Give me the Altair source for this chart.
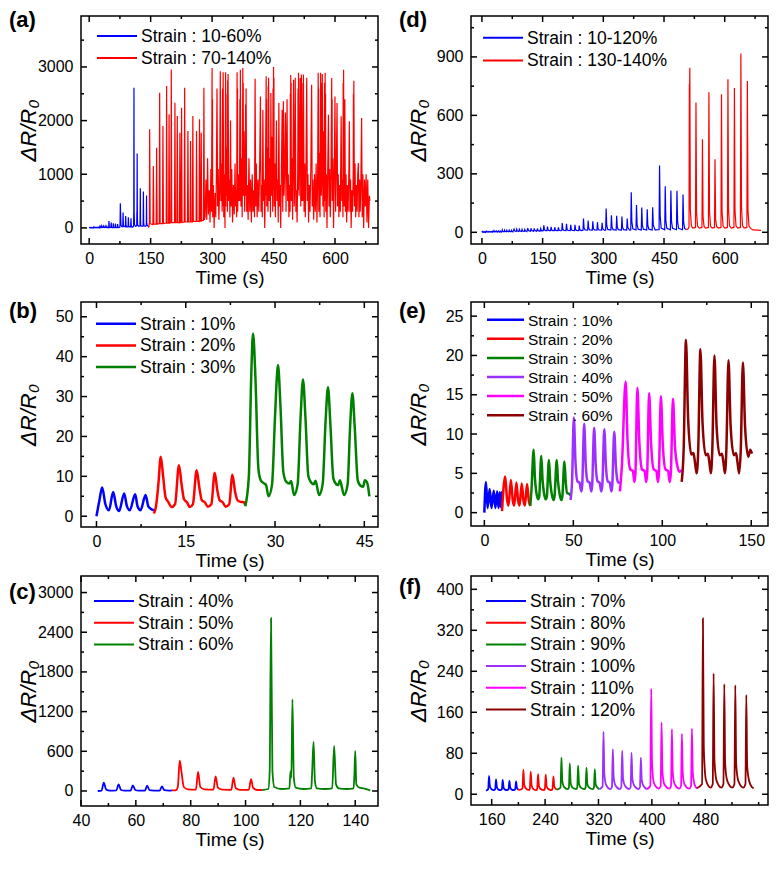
import altair as alt
import pandas as pd

FONT = "Liberation Sans, Arial, Helvetica, sans-serif"
BLUE, RED, GREEN = "#0000ff", "#ff0000", "#008000"
PURPLE, PINK, BROWN = "#9b30ff", "#ff00ff", "#8b0000"

# ---------------- panel (b) : strain 10 / 20 / 30 % ----------------
b_blue = [(0, 0), (0.5, 4.0), (0.95, 7.2), (1.5, 3.0), (2.1, 1.5), (2.8, 6.1), (3.3, 2.6), (3.8, 1.3),
          (4.66, 5.7), (5.1, 2.6), (5.6, 1.5), (6.5, 5.5), (6.9, 2.5), (7.4, 1.5), (8.25, 5.3), (8.7, 2.5),
          (9.1, 1.9), (9.65, 1.5)]
b_red = [(9.65, 0.7), (10.0, 2.5), (10.4, 8), (10.8, 14.9), (11.2, 10), (11.6, 4.8), (12.1, 3.5), (12.6, 2.3),
         (13.2, 3), (13.86, 12.8), (14.3, 8), (14.7, 4.3), (15.2, 3.5), (15.7, 2.3), (16.2, 3), (16.83, 11.5),
         (17.3, 7), (17.7, 4), (18.2, 3.5), (18.7, 2.4), (19.3, 3), (19.87, 10.9), (20.3, 6.5), (20.7, 4),
         (21.2, 3.5), (21.7, 2.4), (22.3, 3), (22.84, 10.4), (23.3, 6), (23.7, 4), (24.2, 3.6), (24.8, 3.5),
         (25.0, 2.8)]
b_green = [(25.0, 2.5), (25.6, 10), (26.0, 35), (26.3, 45.8), (26.7, 35), (27.2, 12), (27.6, 9.0), (28.1, 8.3),
           (28.5, 7.8), (28.9, 5.0), (29.5, 8), (30.0, 25), (30.5, 37.9), (30.9, 28), (31.4, 11), (31.9, 8.6),
           (32.4, 8.2), (32.7, 8.8), (33.2, 5.3), (33.8, 8), (34.3, 25), (34.7, 34.3), (35.1, 25), (35.6, 10),
           (36.1, 8.4), (36.5, 8.0), (36.8, 8.9), (37.4, 5.3), (38.0, 8), (38.5, 24), (38.9, 32.3), (39.3, 23),
           (39.8, 9.5), (40.3, 8), (40.6, 7.8), (40.9, 9.0), (41.6, 5.3), (42.2, 8), (42.6, 22), (43.0, 30.8),
           (43.4, 22), (43.9, 9), (44.4, 7.6), (44.8, 7.4), (45.1, 9.0), (45.5, 8.3), (45.85, 5.0)]

# ---------------- panel (c) : strain 40 / 50 / 60 % ----------------
c_blue = [(46.1, 0), (47.5, 5), (48.3, 126), (49.2, 20), (50.5, 5), (52.9, 8), (53.7, 100), (54.6, 15), (56, 5),
          (58.1, 5), (58.9, 86), (59.8, 15), (61, 5), (63.3, 5), (64.1, 80), (65, 12), (66.5, 5), (68.7, 5),
          (69.5, 70), (70.4, 12), (72, 5), (73.2, 8)]
c_red = [(73.2, 8), (74.5, 10), (75.3, 60), (76.0, 460), (76.6, 300), (77.5, 60), (79, 25), (81.9, 20),
         (82.7, 287), (83.5, 60), (85, 25), (88.3, 20), (89.1, 222), (89.9, 50), (91.5, 20), (94.8, 18),
         (95.6, 200), (96.4, 45), (98, 18), (101.2, 18), (102.0, 180), (102.8, 45), (104.5, 15), (106.1, 15)]
c_green = [(106.1, 15), (108.3, 30), (108.8, 300), (109.3, 2612), (109.8, 300), (110.5, 60), (113, 30),
           (116.0, 40), (116.4, 300), (116.7, 200), (117.1, 1387), (117.6, 200), (118.3, 50), (121, 30),
           (124.0, 40), (124.3, 300), (124.8, 741), (125.3, 150), (126, 40), (129, 30), (131.6, 40),
           (132.3, 680), (133.0, 100), (134, 40), (137, 30), (139.4, 40), (139.7, 250), (140.0, 605),
           (140.4, 100), (141.5, 50), (143, 40), (145.5, 10)]

# ---------------- panel (e) : strain 10 ... 60 % ----------------
e_blue = [(0, 0), (0.9, 3.9), (1.8, 0.6), (3.0, 3.0), (4.0, 0.6), (5.3, 2.8), (6.2, 0.6), (7.2, 2.7),
          (8.0, 0.6), (8.7, 2.6), (9.3, 0.7), (9.8, 2.6), (9.9, 0.7)]
e_red = [(9.9, 0.2), (11.7, 4.6), (12.8, 1.6), (13.6, 0.9), (14.9, 4.15), (16.0, 1.5), (16.8, 0.9),
         (18.0, 3.85), (19.0, 1.5), (19.8, 0.9), (21.0, 3.7), (22.0, 1.5), (22.8, 0.9), (24.0, 3.65),
         (25.0, 1.5), (25.8, 0.85)]
e_green = [(25.8, 0.85), (26.5, 3), (27.7, 8.0), (28.4, 4.5), (29.2, 2.6), (30.2, 1.7), (30.8, 2.0),
           (32.0, 7.2), (32.7, 4.2), (33.5, 2.5), (34.5, 1.7), (35.1, 2.0), (36.3, 6.7), (37.0, 4.0),
           (37.8, 2.5), (38.8, 1.6), (39.4, 2.0), (40.7, 6.7), (41.4, 4.0), (42.2, 2.5), (43.2, 1.6),
           (43.8, 2.0), (45.0, 6.5), (45.7, 4.0), (46.5, 2.5), (47.6, 2.4), (48.4, 2.2)]
e_purple = [(48.4, 1.6), (49.3, 4), (50.3, 12.1), (51.2, 6.5), (52.3, 4.0), (53.5, 3.8), (54.5, 2.7),
            (55.0, 3.5), (56.1, 11.3), (57.0, 6), (58.0, 4.0), (59.2, 3.8), (60.1, 2.7), (60.6, 3.5),
            (61.7, 10.8), (62.6, 6), (63.6, 4.0), (64.8, 3.8), (65.7, 2.7), (66.3, 3.5), (67.4, 10.6),
            (68.3, 6), (69.3, 4.0), (70.5, 3.8), (71.4, 2.7), (71.9, 3.5), (73.0, 10.3), (73.9, 6),
            (74.9, 4.0), (75.6, 3.8), (76.2, 3.8)]
e_pink = [(76.2, 2.7), (77.3, 6), (79.4, 16.7), (80.5, 9), (82.0, 5.5), (83.5, 5.3), (84.3, 3.9), (84.9, 5),
          (86.0, 15.9), (87.1, 9), (88.6, 5.5), (90.1, 5.3), (90.9, 3.9), (91.5, 5), (92.6, 15.2),
          (93.7, 8.8), (95.2, 5.5), (96.7, 5.3), (97.5, 3.9), (98.1, 5), (99.2, 14.8), (100.3, 8.6),
          (101.8, 5.5), (103.3, 5.3), (104.1, 3.9), (104.8, 5), (106.0, 14.5), (107.1, 8.5), (108.6, 5.8),
          (109.6, 5.2), (110.9, 5.4)]
e_brown = [(110.9, 3.9), (112.0, 8), (113.3, 22.0), (114.5, 12), (116.3, 7.4), (117.5, 7.6), (118.3, 6.5),
           (119.3, 5.0), (120.2, 8), (121.4, 20.8), (122.6, 11.5), (124.4, 7.3), (125.6, 7.5), (126.4, 6.5),
           (127.3, 5.0), (128.1, 8), (129.3, 20.0), (130.5, 11), (132.3, 7.3), (133.5, 7.5), (134.3, 6.5),
           (135.2, 5.0), (136.0, 8), (137.2, 19.4), (138.4, 11), (140.2, 7.3), (141.4, 7.6), (142.2, 6.5),
           (143.2, 5.0), (144.1, 8), (145.3, 19.1), (146.5, 11), (148.3, 7.1), (149.4, 8.0), (150.4, 7.5)]

# ---------------- panel (f) : strain 70 ... 120 % ----------------
f_blue = [(151.5, 7), (154.8, 10), (156.0, 36), (157.3, 16), (159.5, 10), (163.0, 8), (165.3, 10), (166.5, 29),
          (167.8, 14), (170.0, 9), (173.0, 8), (175.3, 10), (176.5, 28), (177.8, 13), (180.0, 9), (183.0, 8),
          (185.3, 10), (186.5, 26), (187.8, 13), (190.0, 9), (193.0, 8), (195.3, 10), (196.5, 25), (197.8, 13),
          (200.0, 9)]
f_red = [(200.0, 8), (206.2, 11), (207.5, 48), (208.8, 18), (211.5, 11), (216.0, 8), (217.2, 11), (218.5, 44),
         (219.8, 17), (222.5, 10), (227.0, 8), (228.2, 11), (229.5, 39), (230.8, 16), (233.5, 10), (238.5, 8),
         (239.7, 11), (241.0, 38), (242.3, 15), (245.0, 10), (250.0, 8), (251.2, 11), (252.5, 35), (253.8, 15),
         (256.5, 10), (257.5, 9)]
f_green = [(257.5, 9), (263.2, 13), (264.5, 71.5), (265.8, 25), (268.5, 14), (274.0, 10), (275.7, 13),
           (277.0, 60), (278.3, 22), (281.0, 13), (286.5, 10), (288.2, 13), (289.5, 56), (290.8, 21),
           (293.5, 13), (299.0, 10), (300.7, 13), (302.0, 52), (303.3, 20), (306.0, 13), (311.5, 10),
           (313.2, 13), (314.5, 49), (315.8, 19), (318.5, 13), (321.5, 10)]
f_purple = [(321.5, 10), (326.2, 15), (327.5, 122), (328.8, 40), (331.5, 18), (338.0, 10), (340.2, 14),
            (341.5, 88), (342.8, 32), (345.5, 17), (352.0, 10), (354.2, 14), (355.5, 85), (356.8, 31),
            (359.5, 17), (366.0, 10), (368.2, 14), (369.5, 81), (370.8, 30), (373.5, 17), (380.0, 10),
            (382.2, 14), (383.5, 71.5), (384.8, 28), (387.5, 16), (392.5, 10)]
f_pink = [(392.5, 10), (397.7, 16), (399.0, 206), (400.3, 60), (403.0, 22), (410.5, 11), (413.2, 16),
          (414.5, 140), (415.8, 45), (418.5, 20), (426.0, 11), (428.7, 16), (430.0, 127), (431.3, 42),
          (434.0, 20), (441.0, 11), (443.7, 16), (445.0, 118), (446.3, 40), (449.0, 19), (456.0, 11),
          (458.7, 16), (460.0, 128), (461.3, 42), (464.0, 19), (467.5, 11)]
f_brown = [(467.5, 12), (475.2, 20), (476.5, 343), (477.8, 90), (481.0, 28), (488.0, 13), (491.2, 20),
           (492.5, 236), (493.8, 65), (497.0, 26), (504.0, 13), (507.2, 20), (508.5, 215), (509.8, 60),
           (513.0, 26), (520.5, 13), (523.7, 20), (525.0, 213), (526.3, 60), (529.5, 26), (537.0, 13),
           (540.2, 20), (541.5, 194), (542.8, 55), (546.0, 25), (550.0, 14), (552.5, 12)]

# ---------------- panel (d) : strain 10-120 % and 130-140 % ----------------
d_blue_70_120 = [(150.5, 8), (151.8, 9), (153, 36), (154.5, 13), (157, 9), (160.8, 9), (162, 29), (163.5, 12),
                 (166, 9), (169.8, 9), (171, 28), (172.5, 12), (175, 9), (178.8, 9), (180, 26), (181.5, 11),
                 (184, 9), (187.8, 9), (189, 25), (190.5, 11), (194, 8),
                 (197.3, 9), (198.5, 48), (200, 16), (202.5, 10), (207.8, 9), (209, 44), (210.5, 15),
                 (213, 10), (218.3, 9), (219.5, 39), (221, 14), (223.5, 10), (228.8, 9), (230, 38), (231.5, 14),
                 (234, 10), (239.3, 9), (240.5, 35), (242, 13), (246, 9),
                 (249.8, 11), (251, 71), (252.5, 22), (255, 12), (261.3, 11), (262.5, 60), (264, 20),
                 (266.5, 12), (272.8, 11), (274, 56), (275.5, 19), (278, 12), (284.3, 11), (285.5, 52),
                 (287, 18), (289.5, 12), (295.8, 11), (297, 49), (298.5, 18), (303, 10),
                 (305.8, 12), (307, 122), (308.5, 35), (311, 15), (318.8, 12), (320, 88), (321.5, 28), (324, 14),
                 (331.8, 12), (333, 85), (334.5, 27), (337, 14), (344.8, 12), (346, 81), (347.5, 26), (350, 14),
                 (357.8, 12), (359, 71), (360.5, 24), (365, 11),
                 (367.8, 12), (369, 206), (370.5, 55), (373, 18), (380.8, 12), (382, 140), (383.5, 40),
                 (386, 16), (393.8, 12), (395, 127), (396.5, 37), (399, 16), (407.3, 12), (408.5, 118),
                 (410, 35), (412.5, 16), (420.8, 12), (422, 128), (423.5, 37), (428, 12),
                 (437.8, 13), (439, 343), (440.5, 85), (443, 22), (451.8, 13), (453, 236), (454.5, 62),
                 (457, 20), (465.8, 13), (467, 215), (468.5, 58), (471, 20), (480.8, 13), (482, 213),
                 (483.5, 58), (486, 20), (495.8, 13), (497, 194), (498.5, 52), (501, 20), (505, 14)]
d_red = [(505, 14), (510, 18), (511.8, 30), (512.6, 760), (513.2, 720), (513.8, 844), (515, 120), (517.5, 35),
         (521, 22), (527.8, 25), (529, 666), (530.5, 100), (533, 32), (537, 22), (543.8, 25), (545, 477),
         (546.5, 80), (549, 30), (553, 22), (559.8, 25), (561, 719), (562.5, 105), (565, 32), (569, 22),
         (574.8, 25), (576, 375), (577.5, 65), (580, 30), (584, 22), (590.8, 25), (592, 708), (593.5, 105),
         (596, 32), (600, 22), (606.8, 25), (608, 785), (609.5, 115), (612, 33), (616, 22), (622.8, 25),
         (624, 740), (625.5, 110), (628, 32), (632, 22), (638.8, 25), (640, 918), (641.5, 130), (644, 35),
         (648, 22), (654.8, 25), (656, 776), (657.5, 115), (660, 32), (664, 20), (670, 12), (690, 10)]

# ---------------- panel (a) : strain 70-140 % (red) ----------------
a_red_low = [(145.5, 10), (147, 100), (147.6, 1838), (148.8, 80), (155.5, 60), (156.6, 1155), (157.8, 70),
             (163.5, 70), (164.6, 1496), (165.8, 70), (171, 80), (172, 2520), (173.2, 80), (179, 80),
             (180, 1900), (181.2, 80), (188, 90), (189, 2644), (190.2, 90), (194, 90), (195, 2117), (196.2, 90),
             (199.4, 100), (200.4, 2955), (201.6, 100), (208.3, 100), (209.3, 2334), (210.5, 100), (214, 100),
             (215, 2086), (216.2, 100), (220.4, 100), (221.4, 1775), (222.6, 100), (224.5, 110), (225.5, 2241),
             (226.7, 100), (232, 110), (233, 2613), (234.2, 110), (240, 110), (241, 1806), (242.2, 110),
             (246.4, 110), (247.4, 1620), (248.6, 110), (252, 110), (253, 2086), (254.2, 120), (261, 120),
             (262, 1806), (263.2, 120), (268.3, 120), (269.3, 2024), (270.5, 120), (272.4, 130), (273.4, 1775),
             (274.6, 130), (279, 140), (280, 2613), (281.2, 150)]
a_red_high = [(283, 200), (285, 900), (287, 150), (289, 1300), (291, 250), (293, 700), (295, 100), (297, 1100),
              (298.5, 300), (300, 2980), (301.5, 200), (303, 800), (305, 0), (307, 650), (309, 200), (310.5, 1000),
              (312, 2600), (313.5, 400), (315, 1100), (316.5, 150), (318.5, 700), (320, 2920), (321.5, 500),
              (323, 1200), (324.5, 300), (327, 2900), (328.5, 200), (330, 1000), (331.5, 0), (333, 2900),
              (334.5, 600), (336, 1500), (337.5, 300), (339, 2870), (340.5, 500), (342, 900), (343.5, 200),
              (345, 2000), (346.5, 400), (348, 1100), (350, 100), (352, 800), (354, 250), (356, 1200),
              (357.5, 400), (359, 700), (360, 200), (361, 2900), (362.5, 300), (364, 1000), (365.5, 500),
              (367, 900), (369, 2950), (370.5, 400), (372, 1300), (373.5, 200), (375, 2980), (376.5, 600),
              (378, 1800), (379.5, 300), (381, 1000), (383, 2600), (384.5, 300), (386, 800), (388, 150),
              (390, 1300), (392, 300), (394, 900), (396, 100), (398, 1000), (400, 300), (402, 700), (403.5, 200),
              (405, 2780), (406.5, 400), (408, 1200), (410, 200), (412, 900), (414, 300), (416, 1100),
              (418, 2450), (419.5, 300), (421, 800), (422.5, 200), (424, 2200), (425.5, 500), (427, 900),
              (428.5, 0), (430, 700), (432, 2825), (433.5, 400), (435, 1500), (436.5, 300), (438, 2800),
              (439.5, 500), (441, 1300), (442.5, 200), (443.5, 2515), (445, 600), (446.5, 1700), (448, 300),
              (450, 3000), (451.5, 400), (453, 1200), (454.5, 200), (457, 2000), (458.5, 500), (460, 900),
              (461.5, 100), (463, 2330), (464.5, 400), (466, 800), (467.5, 0), (469, 900), (471, 2200),
              (472.5, 300), (474, 2360), (475.5, 600), (477, 1000), (479, 2150), (480.5, 300), (483, 2400),
              (484.5, 500), (486, 1000), (487.5, 200), (489, 800), (490.5, 300), (492, 2850), (493.5, 500),
              (495, 1300), (496.5, 150), (499, 2760), (500.5, 400), (502, 900), (503, 2800), (504.5, 300),
              (506, 700), (507.5, 100), (509, 1000), (511, 2890), (512.5, 600), (514, 1500), (515, 2795),
              (516.5, 400), (518, 2860), (519.5, 500), (521, 1000), (523, 2860), (524.5, 300), (526, 1200),
              (527.5, 200), (529, 900), (531, 2800), (532.5, 500), (534, 1000), (535.5, 100), (537, 800),
              (539, 300), (541, 1100), (543, 2670), (544.5, 400), (546, 900), (548, 150), (550, 1000),
              (552, 300), (554, 1200), (556, 100), (557.5, 800), (559, 2890), (560.5, 300), (562, 1400),
              (563.5, 200), (565, 2890), (566.5, 600), (568, 1000), (569, 2870), (570.5, 400), (572, 1800),
              (573.5, 200), (576, 2890), (577.5, 300), (579, 1000), (580.5, 0), (582, 900), (584, 2110),
              (585.5, 400), (587, 1100), (588.5, 200), (590, 700), (592, 2795), (593.5, 500), (595, 1300),
              (596.5, 0), (598, 800), (600, 2450), (601.5, 300), (603, 900), (605, 2330), (606.5, 400),
              (608, 1000), (609.5, 200), (611, 800), (613, 300), (615, 2080), (616.5, 500), (618, 900),
              (619.5, 200), (621, 2950), (622.5, 400), (624, 2400), (625.5, 300), (627, 1000), (628.5, 100),
              (630, 800), (632, 300), (634, 1100), (635, 1990), (636.5, 300), (638, 900), (639.5, 0), (641, 700),
              (643, 300), (644.5, 1000), (646, 2745), (647.5, 400), (649, 1200), (650.5, 200), (652, 800),
              (654, 300), (655.5, 1000), (657, 1210), (658.5, 200), (660, 900), (661.5, 300), (663, 700),
              (665, 2050), (666.5, 200), (668, 1000), (670, 0), (672, 900), (674, 400), (676, 1000), (678, 100),
              (680, 900), (682, 0), (684, 600), (685, 500)]
# extra spikes inside the dense clusters of (a)
a_red_extra = [(300.5, 500), (301.0, 2400), (325.5, 2600), (326.2, 400), (333.6, 400), (334.0, 2500),
               (338.0, 2750), (338.5, 500), (361.6, 700), (362.0, 2600), (367.8, 2400), (368.4, 500),
               (375.6, 800), (376.0, 2700), (381.8, 2300), (382.4, 600), (432.6, 600), (433.0, 2400),
               (437.0, 2650), (437.5, 700), (448.8, 2600), (449.4, 700), (450.6, 900), (451.0, 2800),
               (491.0, 2500), (491.5, 800), (492.6, 900), (493.0, 2700), (509.8, 2600), (510.4, 700),
               (517.0, 2500), (517.5, 600), (521.8, 2700), (522.4, 500), (559.6, 700), (560.0, 2600),
               (565.6, 800), (566.0, 2700), (574.5, 2700), (575.2, 500), (576.6, 800), (577.0, 2500),
               (592.6, 900), (593.0, 2400), (620.0, 2700), (620.5, 600), (645.0, 2500), (645.5, 600)]

# axis tick values
a_xt, a_xm = [0, 150, 300, 450, 600], [75, 225, 375, 525, 675]
a_yt, a_ym = [0, 1000, 2000, 3000], [500, 1500, 2500, 3500]
b_xt, b_xm = [0, 15, 30, 45], [7.5, 22.5, 37.5]
b_yt, b_ym = [0, 10, 20, 30, 40, 50], [5, 15, 25, 35, 45]
c_xt, c_xm = [40, 60, 80, 100, 120, 140], [50, 70, 90, 110, 130]
c_yt, c_ym = [0, 600, 1200, 1800, 2400, 3000], [300, 900, 1500, 2100, 2700]
d_xt, d_xm = [0, 150, 300, 450, 600], [75, 225, 375, 525, 675]
d_yt, d_ym = [0, 300, 600, 900], [150, 450, 750, 1050]
e_xt, e_xm = [0, 50, 100, 150], [25, 75, 125]
e_yt, e_ym = [0, 5, 10, 15, 20, 25], [2.5, 7.5, 12.5, 17.5, 22.5]
f_xt, f_xm = [160, 240, 320, 400, 480], [200, 280, 360, 440, 520, 560]
f_yt, f_ym = [0, 80, 160, 240, 320, 400], [40, 120, 200, 280, 360]


def make_df(series):
    rows = []
    for name, pts in series:
        for t, v in sorted(pts):
            rows.append({"t": t, "v": v, "s": name})
    return pd.DataFrame(rows)


def panel(letter, series, colors, xdom, ydom, xt, xm, yt, ym, w, h, lw, interp,
          lx, ly, lsp, lfs, llen, label_dy):
    xs = alt.Scale(domain=xdom, nice=False, zero=False)
    ys = alt.Scale(domain=ydom, nice=False, zero=False)
    xaxis = alt.Axis(values=xt, format="d", title="Time (s)", labelPadding=6, minExtent=22, maxExtent=22,
                     titlePadding=2)
    yaxis = alt.Axis(values=yt, format="d", title="ΔR/R₀", labelPadding=8, minExtent=40, maxExtent=40,
                     titlePadding=1, titleFontStyle="italic")
    names = [s[0] for s in series]
    df = make_df(series)
    main = alt.Chart(df).mark_line(strokeWidth=lw, interpolate=interp, clip=True).encode(
        x=alt.X("t:Q", scale=xs, axis=xaxis),
        y=alt.Y("v:Q", scale=ys, axis=yaxis),
        color=alt.Color("s:N", scale=alt.Scale(domain=names, range=colors), legend=None),
    )
    layers = [main]
    for vals, L in ((xt, 6), (xm, 3)):
        d = pd.DataFrame({"t": vals})
        base = alt.Chart(d).mark_rule(color="black", strokeWidth=1.5)
        layers.append(base.encode(x=alt.X("t:Q", scale=xs, axis=xaxis), y=alt.value(h), y2=alt.value(h - L)))
        layers.append(base.encode(x=alt.X("t:Q", scale=xs, axis=xaxis), y=alt.value(0), y2=alt.value(L)))
    for vals, L in ((yt, 6), (ym, 3)):
        d = pd.DataFrame({"v": vals})
        base = alt.Chart(d).mark_rule(color="black", strokeWidth=1.5)
        layers.append(base.encode(y=alt.Y("v:Q", scale=ys, axis=yaxis), x=alt.value(0), x2=alt.value(L)))
        layers.append(base.encode(y=alt.Y("v:Q", scale=ys, axis=yaxis), x=alt.value(w), x2=alt.value(w - L)))
    # legend drawn as rules + texts
    for i, (nm, col) in enumerate(zip(names, colors)):
        yy = ly + i * lsp
        one = alt.Chart(pd.DataFrame({"n": [nm]}))
        layers.append(one.mark_rule(color=col, strokeWidth=max(lw, 2.0)).encode(
            x=alt.value(lx), x2=alt.value(lx + llen), y=alt.value(yy)))
        layers.append(one.mark_text(font=FONT, fontSize=lfs, align="left", baseline="middle", color="black",
                                    dy=1).encode(text="n:N", x=alt.value(lx + llen + 4), y=alt.value(yy)))
    lab = alt.Chart(pd.DataFrame({"lab": [letter]})).mark_text(
        font=FONT, fontSize=22, fontWeight="bold", align="left", baseline="top", color="black"
    ).encode(text="lab:N", x=alt.value(-72), y=alt.value(label_dy))
    layers.append(lab)
    return alt.layer(*layers).properties(width=w, height=h)


W = 297
pa = panel("(a)", [("Strain : 10-60%", b_blue + b_red + b_green + c_blue + c_red + c_green),
                   ("Strain : 70-140%", a_red_low + a_red_high + a_red_extra)],
           [BLUE, RED], [-20, 705], [-300, 3950], a_xt, a_xm, a_yt, a_ym, W, 228, 1.2, "linear",
           16, 20, 22, 17.5, 40, -6)
pd_ = panel("(d)", [("Strain : 10-120%", e_blue + e_red + e_green + e_purple + e_pink + e_brown + d_blue_70_120),
                    ("Strain : 130-140%", d_red)],
            [BLUE, RED], [-27, 707], [-60, 1110], d_xt, d_xm, d_yt, d_ym, W, 228, 1.2, "linear",
            12, 21.7, 22.7, 17.5, 40, -6)
pb = panel("(b)", [("Strain : 10%", b_blue), ("Strain : 20%", b_red), ("Strain : 30%", b_green)],
           [BLUE, RED, GREEN], [-2.6, 47.3], [-2.7, 53.7], b_xt, b_xm, b_yt, b_ym, W, 225, 2.5, "monotone",
           15, 21.7, 21.7, 17.5, 40, -1)
pe = panel("(e)", [("Strain : 10%", e_blue), ("Strain : 20%", e_red), ("Strain : 30%", e_green),
                   ("Strain : 40%", e_purple), ("Strain : 50%", e_pink), ("Strain : 60%", e_brown)],
           [BLUE, RED, GREEN, PURPLE, PINK, BROWN], [-7.5, 159.4], [-1.7, 26.8], e_xt, e_xm, e_yt, e_ym,
           W, 224, 2.5, "monotone", 16, 17.7, 19.1, 15.5, 37, -1)
pc = panel("(c)", [("Strain : 40%", c_blue), ("Strain : 50%", c_red), ("Strain : 60%", c_green)],
           [BLUE, RED, GREEN], [40, 148.3], [-227, 3250], c_xt, c_xm, c_yt, c_ym, W, 230, 1.8, "monotone",
           13, 25, 21.7, 17.5, 40, 6)
pf = panel("(f)", [("Strain : 70%", f_blue), ("Strain : 80%", f_red), ("Strain : 90%", f_green),
                   ("Strain : 100%", f_purple), ("Strain : 110%", f_pink), ("Strain : 120%", f_brown)],
           [BLUE, RED, GREEN, PURPLE, PINK, BROWN], [129, 574], [-21, 426], f_xt, f_xm, f_yt, f_ym,
           W, 229, 1.8, "monotone", 15, 25, 21.7, 17.5, 40, 1)


def indep(c):
    return c.resolve_scale(color="independent")


def row(l, r):
    return indep(alt.hconcat(l, r, spacing=18))


bottom = indep(alt.vconcat(row(pb, pe), row(pc, pf), spacing=3))
chart = indep(alt.vconcat(row(pa, pd_), bottom, spacing=11))

chart = chart.properties(padding={"left": 0, "top": 0, "right": 0, "bottom": 0}).configure_view(
    stroke="black", strokeWidth=1.5
).configure_axis(
    labelFont=FONT, labelFontSize=16, labelColor="black", titleFont=FONT, titleFontSize=19,
    titleColor="black", titleFontWeight="normal", grid=False, ticks=False, domain=False,
    labelFlush=False, labelOverlap=False
).configure_axisY(titleFontSize=22)

chart.save("out.html", embed_options={"renderer": "svg", "actions": False})
